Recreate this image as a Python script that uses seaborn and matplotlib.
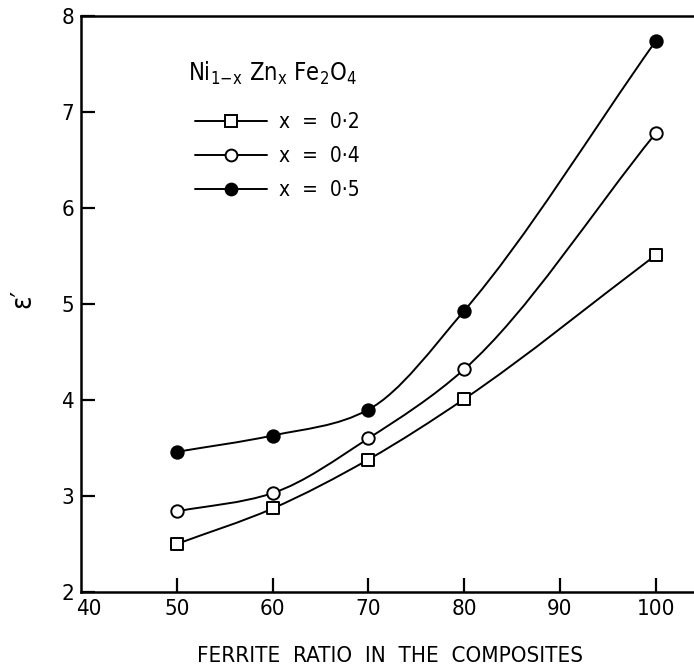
import numpy as np
import pandas as pd
import matplotlib
matplotlib.use("Agg")
import matplotlib.pyplot as plt
from matplotlib.path import Path
from matplotlib.patches import PathPatch
from matplotlib.lines import Line2D
from matplotlib.transforms import ScaledTranslation
import seaborn as sns

# ---- data ----
ferrite_ratio = [50, 60, 70, 80, 100]
eps_x02 = [2.50, 2.87, 3.38, 4.01, 5.51]
eps_x04 = [2.84, 3.03, 3.60, 4.32, 6.78]
eps_x05 = [3.46, 3.63, 3.90, 4.93, 7.74]
series_labels = ["x  =  0·2", "x  =  0·4", "x  =  0·5"]
x_ticks = [40, 50, 60, 70, 80, 90, 100]
y_ticks = [2, 3, 4, 5, 6, 7, 8]

sns.set_style("ticks")
plt.rcParams["font.family"] = ["DejaVu Sans"]
plt.rcParams["font.stretch"] = "condensed"
plt.rcParams["mathtext.fontset"] = "dejavusans"
plt.rcParams["text.color"] = "black"
plt.rcParams["axes.labelcolor"] = "black"
plt.rcParams["xtick.color"] = "black"
plt.rcParams["ytick.color"] = "black"

W, H = 694, 666
fig = plt.figure(figsize=(W / 100, H / 100), dpi=100)
left, right, top, bottom = 81, 694, 16, 592
ax = fig.add_axes([left / W, (H - bottom) / H, (right - left) / W, (bottom - top) / H])

df = pd.DataFrame({
    "ratio": ferrite_ratio * 3,
    "eps": eps_x02 + eps_x04 + eps_x05,
    "series": sum([[s] * len(ferrite_ratio) for s in series_labels], []),
})


def smooth_path(xs, ys):
    """Render the data as a smooth Bezier path passing through the points."""
    xs = np.asarray(xs, float)
    ys = np.asarray(ys, float)
    n = len(xs)
    h = np.diff(xs)
    d = np.diff(ys) / h
    m = np.empty(n)
    m[0] = d[0]
    m[-1] = d[-1]
    for i in range(1, n - 1):
        w1 = 2 * h[i] + h[i - 1]
        w2 = h[i] + 2 * h[i - 1]
        harm = (w1 + w2) / (w1 / d[i - 1] + w2 / d[i])
        arit = (h[i] * d[i - 1] + h[i - 1] * d[i]) / (h[i] + h[i - 1])
        m[i] = 0.5 * (harm + arit)
    verts = [(xs[0], ys[0])]
    codes = [Path.MOVETO]
    for i in range(n - 1):
        verts += [(xs[i] + h[i] / 3, ys[i] + m[i] * h[i] / 3),
                  (xs[i + 1] - h[i] / 3, ys[i + 1] - m[i + 1] * h[i] / 3),
                  (xs[i + 1], ys[i + 1])]
        codes += [Path.CURVE4] * 3
    return Path(verts, codes)


lw = 1.4
styles = {
    series_labels[0]: dict(marker="s", facecolor="white"),
    series_labels[1]: dict(marker="o", facecolor="white"),
    series_labels[2]: dict(marker="o", facecolor="black"),
}
handles = []
for lab in series_labels:
    sub = df[df["series"] == lab]
    ax.add_patch(PathPatch(smooth_path(sub["ratio"], sub["eps"]), fill=False,
                           edgecolor="black", lw=lw, zorder=2))
    st = styles[lab]
    sns.scatterplot(data=sub, x="ratio", y="eps", marker=st["marker"],
                    color=st["facecolor"], edgecolor="black", linewidth=1.4,
                    s=80, zorder=3, ax=ax, legend=False)
    handles.append(Line2D([0], [0], color="black", lw=lw, marker=st["marker"],
                          markerfacecolor=st["facecolor"], markeredgecolor="black",
                          markeredgewidth=1.4, markersize=8.5))

ax.set_xlim(40, 40 + (right - left) / 95.8 * 10)
ax.set_ylim(2, 8)
ax.set_xticks(x_ticks)
ax.set_yticks(y_ticks)
ax.set_xticklabels([str(t) for t in x_ticks])
ax.set_yticklabels([str(t) for t in y_ticks])
ax.tick_params(axis="both", direction="in", length=10, width=1.6, labelsize=16,
               pad=5, colors="black")
ax.xaxis.get_major_ticks()[0].tick1line.set_visible(False)
# nudge the "40" label right of the corner, as in the original
lab40 = ax.get_xticklabels()[0]
lab40.set_transform(lab40.get_transform() + ScaledTranslation(8 / 100, 0, fig.dpi_scale_trans))
for sp in ["left", "bottom", "top"]:
    ax.spines[sp].set_linewidth(1.8)
    ax.spines[sp].set_color("black")
ax.spines["right"].set_visible(False)

ax.set_xlabel("FERRITE  RATIO  IN  THE  COMPOSITES", fontsize=16)
ax.set_ylabel("ε′", fontsize=20)
ax.xaxis.set_label_coords(0.504, -0.093)
ax.yaxis.set_label_coords(-0.072, 0.51)

ax.text((188 - left) / (right - left), 1 - (73 - top) / (bottom - top),
        r"Ni$_{\mathregular{1\!-\!x}}$ Zn$_{\mathregular{x}}$ Fe$_{\mathregular{2}}$O$_{\mathregular{4}}$",
        transform=ax.transAxes, ha="left", va="center", fontsize=17)

fs = 15
leg = ax.legend(handles=handles, labels=series_labels,
                loc="upper left",
                bbox_to_anchor=((195 - left) / (right - left), 1 - (112 - top) / (bottom - top)),
                frameon=False, fontsize=fs, handlelength=3.46,
                handletextpad=0.58, labelspacing=0.68, borderaxespad=0, borderpad=0)

fig.savefig("out.png", dpi=100)
